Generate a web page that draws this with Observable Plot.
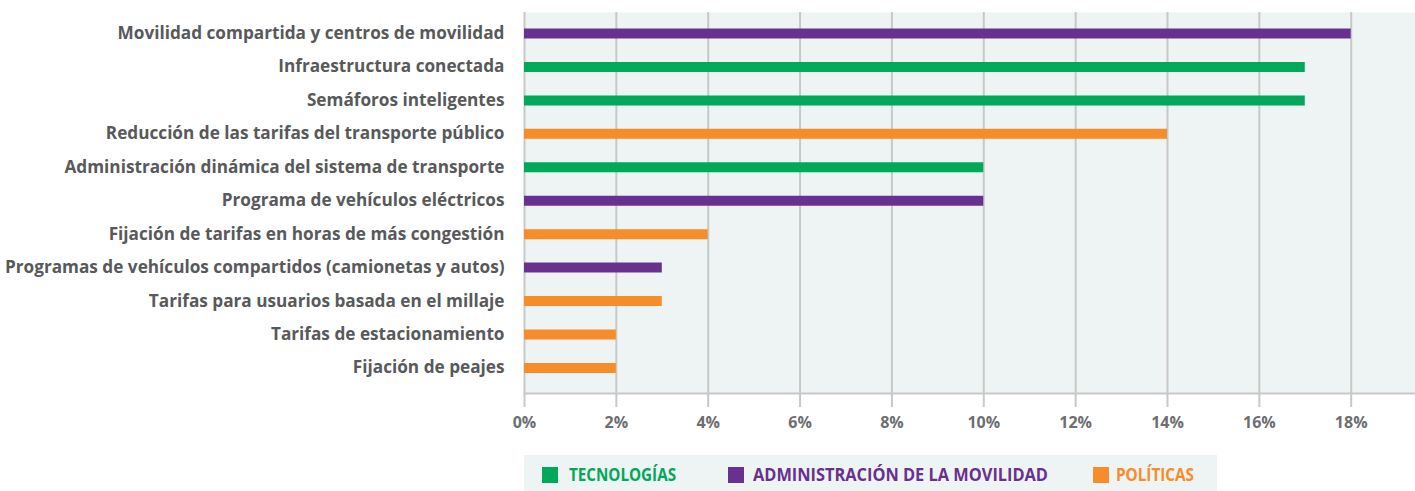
<!DOCTYPE html>
<html><head><meta charset="utf-8">
<script src="https://cdn.jsdelivr.net/npm/d3@7"></script>
<script src="https://cdn.jsdelivr.net/npm/@observablehq/plot@0.6"></script>
<style>
body{margin:0;background:#fff;font-family:"Open Sans",sans-serif;}
#legend{position:relative;margin-left:524px;margin-top:15px;width:693px;height:36px;background:#eef4f3;font-family:"Open Sans",sans-serif;font-weight:700;font-size:17px;white-space:nowrap;}
#legend .sw{position:absolute;top:12px;width:16px;height:16px;}
#legend .tx{position:absolute;top:0;line-height:40px;transform-origin:0 50%;}
</style></head><body>
<div id="chart"></div>
<div id="legend"></div>
<script>
const categories = [
  "Movilidad compartida y centros de movilidad",
  "Infraestructura conectada",
  "Semáforos inteligentes",
  "Reducción de las tarifas del transporte público",
  "Administración dinámica del sistema de transporte",
  "Programa de vehículos eléctricos",
  "Fijación de tarifas en horas de más congestión",
  "Programas de vehículos compartidos (camionetas y autos)",
  "Tarifas para usuarios basada en el millaje",
  "Tarifas de estacionamiento",
  "Fijación de peajes"
];
const values = [18, 17, 17, 14, 10, 10, 4, 3, 3, 2, 2];
const groups = ["ADMINISTRACIÓN DE LA MOVILIDAD","TECNOLOGÍAS","TECNOLOGÍAS","POLÍTICAS","TECNOLOGÍAS","ADMINISTRACIÓN DE LA MOVILIDAD","POLÍTICAS","ADMINISTRACIÓN DE LA MOVILIDAD","POLÍTICAS","POLÍTICAS","POLÍTICAS"];
const legendLabels = ["TECNOLOGÍAS","ADMINISTRACIÓN DE LA MOVILIDAD","POLÍTICAS"];
const legendColors = ["#00a85a","#68308f","#f68c2a"];
const xTicks = [0,2,4,6,8,10,12,14,16,18];

const data = categories.map((c,i)=>({cat:c, value:values[i], group:groups[i]}));

const plot = Plot.plot({
  width: 1415, height: 440,
  marginLeft: 524, marginRight: 0, marginTop: 12, marginBottom: 47,
  style: {fontFamily: "'Open Sans', sans-serif", color: "#58595b", background: "#fff"},
  x: {domain: [0, 19.4], ticks: xTicks, tickFormat: d => d + "%"},
  y: {type: "point", domain: categories, range: [33, 367.4], padding: 0, round: false},
  color: {domain: legendLabels, range: legendColors},
  marks: [
    Plot.frame({fill: "#eef4f3", stroke: null}),
    Plot.ruleX(xTicks, {stroke: "#c8c8c8", strokeWidth: 2}),
    Plot.frame({anchor: "bottom", stroke: "#c8c8c8", strokeWidth: 2, strokeOpacity: 1}),
    Plot.axisX({ticks: xTicks, tickFormat: d => d + "%", tickSize: 14, tickPadding: 9, stroke: "#c8c8c8", strokeWidth: 2, strokeOpacity: 1, fontSize: 16, fontWeight: "bold", fill: "#6d6e71", label: null}),
    Plot.axisY({tickSize: 0, tickPadding: 20, fontSize: 17.2, fontWeight: "bold", fill: "#58595b", label: null}),
    Plot.ruleY(data, {y: "cat", x1: 0, x2: "value", stroke: "group", strokeWidth: 10})
  ]
});
document.getElementById("chart").appendChild(plot);

const lg = document.getElementById("legend");
const swLeft = [18, 204, 569];
const txLeft = [45, 229, 592];
const txWidth = [107, 295, 78];
legendLabels.forEach((l,i)=>{
  const sw = document.createElement("div");
  sw.className = "sw";
  sw.style.left = swLeft[i] + "px";
  sw.style.background = legendColors[i];
  lg.appendChild(sw);
  const tx = document.createElement("div");
  tx.className = "tx";
  tx.style.left = txLeft[i] + "px";
  tx.style.color = legendColors[i];
  tx.textContent = l;
  lg.appendChild(tx);
  const w = tx.getBoundingClientRect().width;
  if (w > 0) tx.style.transform = `scaleX(${txWidth[i] / w})`;
});
</script>
</body></html>
